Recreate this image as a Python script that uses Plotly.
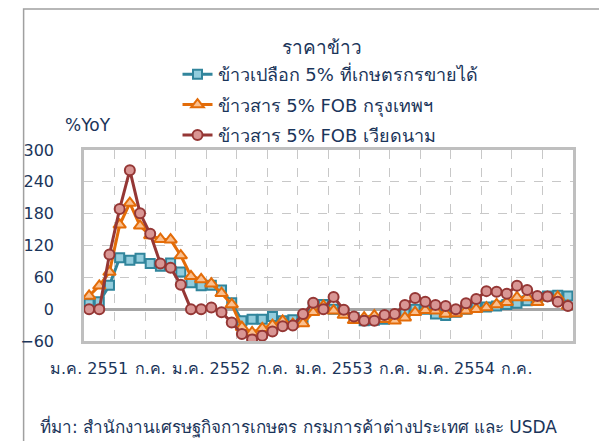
import plotly.graph_objects as go

months = list(range(48))

paddy = [10, 14, 45, 97, 92, 96, 86, 81, 87, 70, 50, 44,
         45, 36, 12, -22, -19, -19, -14, -22, -20, -19,
         6, 9, 0, -6, -16, -22, -21, -19, -16, -6,
         0, 0, -9, -12, -6, 0, 3, 4, 6, 9,
         11, 16, 21, 25, 26, 25]

thai_fob = [25, 44, 70, 159, 200, 157, 139, 132, 131, 101, 62, 56,
            48, 30, 9, -34, -44, -36, -30, -22, -28, -27,
            -6, 6, -3, -11, -21, -16, -12, -19, -22, -16,
            -6, -2, -3, -9, -8, -3, 0, 3, 9, 13,
            22, 22, 13, 22, 23, 6]

viet_fob = [0, 0, 103, 189, 262, 181, 142, 86, 78, 46, 0, 0,
            3, -6, -25, -47, -57, -50, -42, -32, -31, -9,
            12, 0, 23, -1, -14, -22, -22, -11, -9, 8,
            21, 14, 8, 6, 0, 11, 19, 34, 33, 29,
            44, 36, 25, 24, 14, 6]

tick_pos = [0, 6, 12, 18, 24, 30, 36, 42]
tick_text = ["ม.ค. 2551", "ก.ค.", "ม.ค. 2552", "ก.ค.", "ม.ค. 2553", "ก.ค.", "ม.ค. 2554", "ก.ค."]

names = ["ข้าวเปลือก 5% ที่เกษตรกรขายได้", "ข้าวสาร 5% FOB กรุงเทพฯ", "ข้าวสาร 5% FOB เวียดนาม"]

FONT = "Tahoma, 'DejaVu Sans', sans-serif"
TXT = "#1B355A"

# page body has an 8px default margin, so figure coords = screen coords - 8
fig = go.Figure()
fig.add_trace(go.Scatter(x=months, y=paddy, name=names[0], legendgroup="a", mode="lines+markers",
                         line=dict(color="#31859C", width=3),
                         marker=dict(symbol="square", size=9, color="#93CDDD",
                                     line=dict(color="#31859C", width=2))))
fig.add_trace(go.Scatter(x=months, y=thai_fob, name=names[1], legendgroup="b", mode="lines+markers",
                         line=dict(color="#E36C09", width=3),
                         marker=dict(symbol="triangle-up", size=11, color="#FAC090",
                                     line=dict(color="#E36C09", width=2))))
fig.add_trace(go.Scatter(x=months, y=viet_fob, name=names[2], legendgroup="c", mode="lines+markers",
                         line=dict(color="#953735", width=3),
                         marker=dict(symbol="circle", size=10, color="#D99694",
                                     line=dict(color="#953735", width=2))))

fig.update_layout(
    width=607, height=441,
    margin=dict(l=63, r=42, t=142, b=108),
    paper_bgcolor="white", plot_bgcolor="white",
    font=dict(family=FONT, color=TXT, size=16),
    showlegend=True,
    legend=dict(x=(167 - 71) / 502, y=(341 - 56) / 191, xanchor="left", yanchor="top",
                font=dict(size=18, color=TXT), bgcolor="rgba(0,0,0,0)",
                tracegroupgap=4, itemwidth=30),
    xaxis=dict(range=[-0.5, 47.5], tickvals=tick_pos, ticktext=tick_text,
               showgrid=False, zeroline=False,
               showline=True, linecolor="#BFBFBF", linewidth=2.5, mirror=True,
               ticks="", ticklabelstandoff=11,
               tickfont=dict(size=16, color=TXT),
               minor=dict(tick0=-0.5, dtick=3, showgrid=True, gridcolor="#C8C8C8",
                          griddash="dash", gridwidth=1, ticks="")),
    yaxis=dict(range=[-60, 300], tickvals=[-60, 0, 60, 120, 180, 240, 300],
               showgrid=True, gridcolor="#C8C8C8", griddash="dash", gridwidth=1,
               zeroline=True, zerolinecolor="#A6A6A6", zerolinewidth=3,
               showline=True, linecolor="#BFBFBF", linewidth=2.5, mirror=True,
               ticks="", ticklabelstandoff=24,
               tickfont=dict(size=16, color=TXT)),
)

fig.add_annotation(text="ราคาข้าว", xref="paper", yref="paper", x=(315 - 71) / 502, y=(341 - 34) / 191,
                   showarrow=False, font=dict(size=19, color=TXT))
fig.add_annotation(text="%YoY", xref="paper", yref="paper", x=(49 - 71) / 502, y=(341 - 113) / 191,
                   showarrow=False, font=dict(size=17, color=TXT))
fig.add_annotation(text="ที่มา: สำนักงานเศรษฐกิจการเกษตร กรมการค้าต่างประเทศ และ USDA",
                   xref="paper", yref="paper", x=(24 - 71) / 502, y=(341 - 440) / 191,
                   xanchor="left", showarrow=False, font=dict(size=17, color=TXT))

fig.add_shape(type="rect", xref="paper", yref="paper",
              x0=(9 - 71) / 502, x1=(640 - 71) / 502,
              y0=(341 - 470) / 191, y1=(341 - 9) / 191,
              line=dict(color="#A0A0A0", width=1.5), fillcolor="rgba(0,0,0,0)", layer="below")

fig.write_html("out.html")
